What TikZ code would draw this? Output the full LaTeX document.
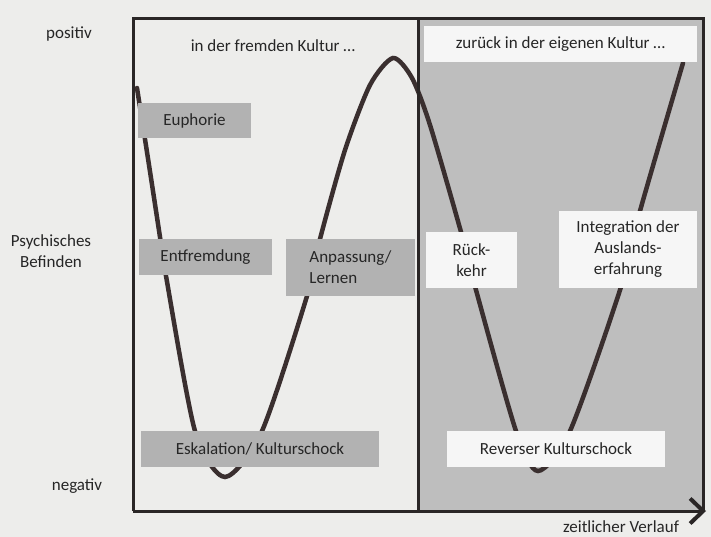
\documentclass[tikz,border=0pt]{standalone}
\usepackage{fontspec}
\setmainfont{Carlito}
\usetikzlibrary{arrows.meta}
\definecolor{paper}{HTML}{EDEDEB}
\definecolor{shadegray}{HTML}{BEBEBE}
\definecolor{boxgray}{HTML}{B2B2B2}
\definecolor{boxwhite}{HTML}{F6F6F6}
\definecolor{ink}{HTML}{2A2626}
\definecolor{curvec}{HTML}{3A2F2F}
\tikzset{
  lbl/.style={font=\fontsize{17}{21}\selectfont, text=black!85, align=center, inner sep=0pt},
  graybox/.style={lbl, fill=boxgray, inner sep=0pt},
  whitebox/.style={lbl, fill=boxwhite, inner sep=0pt},
  frameline/.style={draw=ink, line width=3pt},
  wcurve/.style={draw=curvec, line width=4.5pt, line cap=round}
}
\begin{document}
\begin{tikzpicture}[x=1pt,y=-1pt]
\useasboundingbox (0,0) rectangle (711,537);
\fill[paper] (0,0) rectangle (711,537);
% shaded right half
\fill[shadegray] (418,19) rectangle (703,511);
% W curve
\draw[wcurve] plot[smooth, tension=0.45] coordinates {
 (137,88) (149,165) (160,237) (166,276) (195,431) (225,477) (262,431) (307,296)
 (320,239) (345,150) (370,85) (393,58) (412,78) (430,125) (461,232)
 (476,290) (516,431) (538,471) (570,431) (620,290) (640,211) (683,63)};
% frame
\draw[frameline] (418,19) -- (418,511);
\draw[frameline] (133,511) -- (133,19) -- (703,19) -- (703,511);
\coordinate (origin) at (133,511);
\coordinate (tend) at (706,511);
\draw[frameline, -{Straight Barb[length=13pt,width=25pt,line width=4pt]}] (origin) -- (tend);
% boxes
\node[graybox, minimum width=113pt, minimum height=35pt] (euph) at (194.5,120.5) {Euphorie};
\node[graybox, minimum width=133pt, minimum height=36pt] (entf) at (205.5,257) {Entfremdung};
\node[graybox, minimum width=129pt, minimum height=57pt, align=left] (anp) at (350.5,267.5) {Anpassung/\\Lernen};
\node[graybox, minimum width=238pt, minimum height=36pt] (esk) at (260,449) {Eskalation/ Kulturschock};
\node[whitebox, minimum width=273pt, minimum height=36pt] (zur) at (560.5,44) {zurück in der eigenen Kultur …};
\node[whitebox, minimum width=91pt, minimum height=56pt] (rueck) at (471.5,260) {Rück-\\kehr};
\node[whitebox, minimum width=138pt, minimum height=77pt] (integ) at (628,249.5) {Integration der\\Auslands-\\erfahrung};
\node[whitebox, minimum width=218pt, minimum height=36pt] (rev) at (556,449) {Reverser Kulturschock};
% labels
\node[lbl] (fremd) at (273,46) {in der fremden Kultur …};
\node[lbl] (pos) at (69,34) {positiv};
\node[lbl] (psy) at (51,251) {Psychisches\\Befinden};
\node[lbl] (neg) at (77,486) {negativ};
\node[lbl] (zeit) at (621,527) {zeitlicher Verlauf};
\end{tikzpicture}
\end{document}
